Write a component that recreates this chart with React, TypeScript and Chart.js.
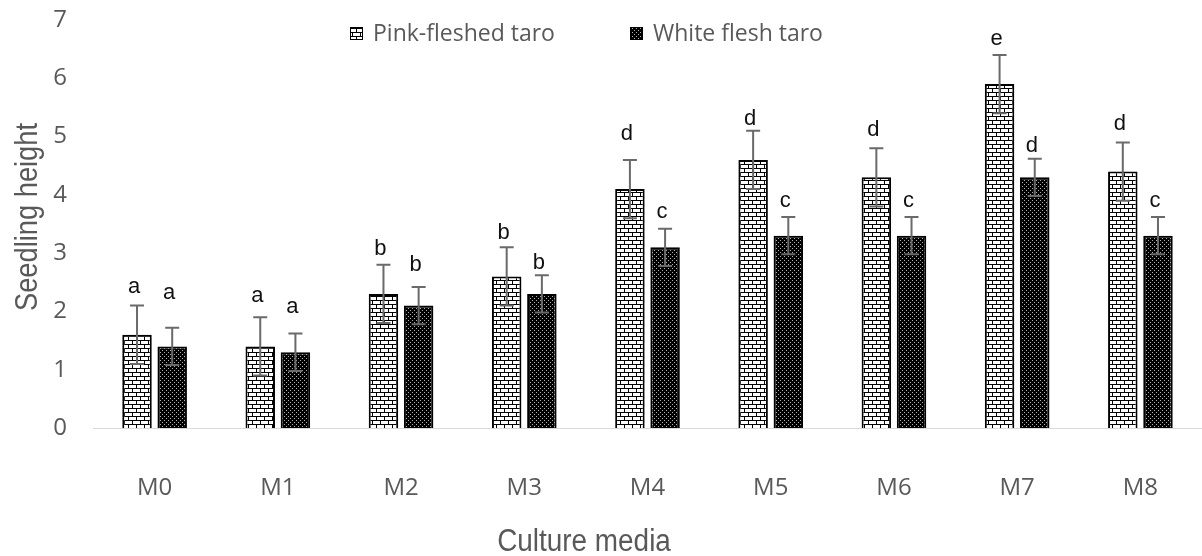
import { useEffect, useRef } from "react";
import { Chart, registerables } from "chart.js";

Chart.register(...registerables);

const categories = ["M0", "M1", "M2", "M3", "M4", "M5", "M6", "M7", "M8"];
const seriesNames = ["Pink-fleshed taro", "White flesh taro"];
const pinkValues = [1.6, 1.4, 2.3, 2.6, 4.1, 4.6, 4.3, 5.9, 4.4];
const whiteValues = [1.4, 1.3, 2.1, 2.3, 3.1, 3.3, 3.3, 4.3, 3.3];
const pinkErrors = [0.5, 0.5, 0.5, 0.5, 0.5, 0.5, 0.5, 0.5, 0.5];
const whiteErrors = [0.32, 0.32, 0.32, 0.32, 0.32, 0.32, 0.32, 0.32, 0.32];
const pinkLetters = ["a", "a", "b", "b", "d", "d", "d", "e", "d"];
const whiteLetters = ["a", "a", "b", "b", "c", "c", "c", "d", "c"];
const pinkLetterY = [2.42, 2.26, 3.08, 3.34, 5.05, 5.31, 5.12, 6.67, 5.21];
const whiteLetterY = [2.31, 2.07, 2.8, 2.84, 3.7, 3.89, 3.89, 4.84, 3.89];
const yMin = 0;
const yMax = 7;
const yStep = 1;
const xTitle = "Culture media";
const yTitle = "Seedling height";

const GRAY = "#595959";

function makeBrick(): CanvasPattern | string {
  const c = document.createElement("canvas");
  c.width = 8;
  c.height = 8;
  const g = c.getContext("2d");
  if (!g) return "#fff";
  g.fillStyle = "#fff";
  g.fillRect(0, 0, 8, 8);
  g.fillStyle = "#000";
  g.fillRect(0, 0, 8, 1);
  g.fillRect(0, 4, 8, 1);
  g.fillRect(0, 0, 1, 4);
  g.fillRect(4, 4, 1, 4);
  return g.createPattern(c, "repeat") || "#fff";
}

function makeDots(): CanvasPattern | string {
  const c = document.createElement("canvas");
  c.width = 4;
  c.height = 4;
  const g = c.getContext("2d");
  if (!g) return "#000";
  g.fillStyle = "#000";
  g.fillRect(0, 0, 4, 4);
  g.fillStyle = "#b0b0b0";
  g.fillRect(0, 0, 1, 1);
  g.fillRect(2, 2, 1, 1);
  return g.createPattern(c, "repeat") || "#000";
}

export default function App() {
  const ref = useRef<HTMLCanvasElement | null>(null);

  useEffect(() => {
    document.body.style.margin = "0";
    const canvas = ref.current;
    if (!canvas) return;
    const brick = makeBrick();
    const dots = makeDots();
    const errors = [pinkErrors, whiteErrors];
    const letters = [pinkLetters, whiteLetters];
    const letterY = [pinkLetterY, whiteLetterY];
    const fills = [brick, dots];

    const extras = {
      id: "extras",
      afterDatasetsDraw(chart: any) {
        const ctx = chart.ctx;
        const ys = chart.scales.y;
        chart.data.datasets.forEach((ds: any, di: number) => {
          const meta = chart.getDatasetMeta(di);
          meta.data.forEach((el: any, i: number) => {
            const v = ds.data[i];
            const e = errors[di][i];
            const x = el.x;
            const t = ys.getPixelForValue(v + e);
            const b = ys.getPixelForValue(v - e);
            ctx.save();
            ctx.strokeStyle = "#6a6a6a";
            ctx.lineWidth = 2;
            ctx.beginPath();
            ctx.moveTo(x, t);
            ctx.lineTo(x, b);
            ctx.moveTo(x - 7, t);
            ctx.lineTo(x + 7, t);
            ctx.moveTo(x - 7, b);
            ctx.lineTo(x + 7, b);
            ctx.stroke();
            ctx.fillStyle = "#111";
            ctx.font = "22px 'Liberation Sans', Arial, sans-serif";
            ctx.textAlign = "center";
            ctx.textBaseline = "middle";
            ctx.fillText(letters[di][i], x - 3, ys.getPixelForValue(letterY[di][i]));
            ctx.restore();
          });
        });
      },
      afterDraw(chart: any) {
        const ctx = chart.ctx;
        ctx.save();
        ctx.font = "23px 'Open Sans', sans-serif";
        ctx.textBaseline = "middle";
        ctx.textAlign = "left";
        const lx = [350, 630];
        seriesNames.forEach((name, i) => {
          ctx.fillStyle = fills[i];
          ctx.fillRect(lx[i], 27, 13, 13);
          ctx.strokeStyle = "#000";
          ctx.lineWidth = 1;
          ctx.strokeRect(lx[i] + 0.5, 27.5, 12, 12);
          ctx.fillStyle = GRAY;
          ctx.fillText(name, lx[i] + 23, 34);
        });
        ctx.fillStyle = GRAY;
        ctx.font = "31px 'Liberation Sans', Arial, sans-serif";
        ctx.textAlign = "center";
        ctx.textBaseline = "middle";
        ctx.save();
        ctx.translate(584, 542);
        ctx.scale(0.9, 1);
        ctx.fillText(xTitle, 0, 0);
        ctx.restore();
        ctx.save();
        ctx.translate(28, 217);
        ctx.rotate(-Math.PI / 2);
        ctx.scale(0.88, 1);
        ctx.fillText(yTitle, 0, 0);
        ctx.restore();
        ctx.restore();
      },
    };

    const chart = new Chart(canvas, {
      type: "bar",
      data: {
        labels: categories,
        datasets: [
          {
            label: seriesNames[0],
            data: pinkValues,
            backgroundColor: brick as any,
            borderColor: "#000",
            borderWidth: 2,
            categoryPercentage: 0.571,
            barPercentage: 0.838,
          },
          {
            label: seriesNames[1],
            data: whiteValues,
            backgroundColor: dots as any,
            borderColor: "#000",
            borderWidth: 2,
            categoryPercentage: 0.571,
            barPercentage: 0.838,
          },
        ],
      },
      options: {
        responsive: false,
        animation: false,
        layout: { padding: { top: 20, right: 0, left: 0, bottom: 0 } },
        plugins: {
          legend: { display: false },
          tooltip: { enabled: false },
        },
        scales: {
          x: {
            grid: { display: false, drawTicks: false },
            border: { display: true, color: "#d9d9d9", width: 1 },
            ticks: {
              color: GRAY,
              font: { family: "'Open Sans', sans-serif", size: 24 },
              padding: 46,
            },
            afterFit(scale: any) {
              scale.height = 128;
              scale.paddingLeft = 0;
              scale.paddingRight = 0;
            },
          },
          y: {
            min: yMin,
            max: yMax,
            grid: { display: false, drawTicks: false },
            border: { display: false },
            ticks: {
              stepSize: yStep,
              color: GRAY,
              font: { family: "'Open Sans', sans-serif", size: 24 },
              padding: 26,
            },
            afterFit(scale: any) {
              scale.width = 93;
              scale.paddingTop = 0;
              scale.paddingBottom = 0;
            },
          },
        },
      },
      plugins: [extras],
    });
    return () => chart.destroy();
  }, []);

  return (
    <div style={{ width: 1202, height: 556 }}>
      <canvas ref={ref} width={1202} height={556} style={{ display: "block" }} />
    </div>
  );
}
